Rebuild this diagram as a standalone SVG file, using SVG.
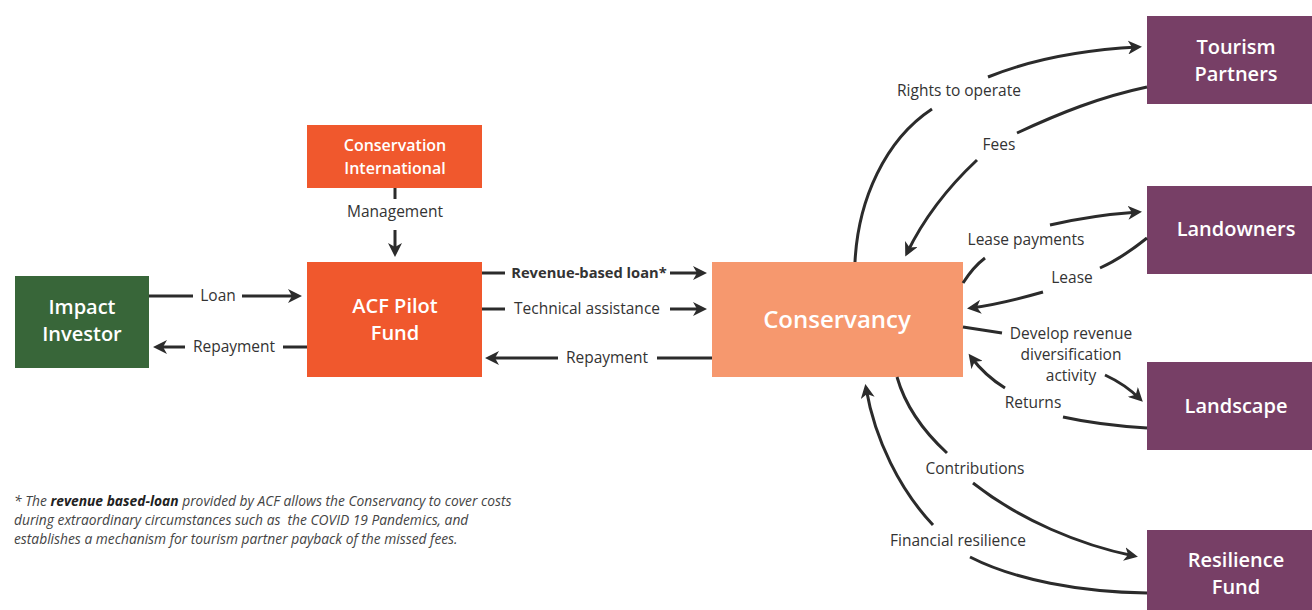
<svg xmlns="http://www.w3.org/2000/svg" width="1312" height="610" viewBox="0 0 1312 610">
<style>
.node-t{font-family:"Open Sans","Liberation Sans",sans-serif;font-weight:600;fill:#fff;text-anchor:middle}
.lbl{font-family:"Open Sans","Liberation Sans",sans-serif;font-size:15.5px;fill:#333;text-anchor:middle}
.c{fill:none;stroke:#2b2b2b;stroke-width:3}
.a{marker-end:url(#arr)}
.foot{font-family:"Open Sans","Liberation Sans",sans-serif;font-size:13.8px;font-style:italic;fill:#444}
</style>
<defs>
<marker id="arr" markerUnits="userSpaceOnUse" markerWidth="16" markerHeight="14" refX="10" refY="7" orient="auto" viewBox="0 0 16 14">
<path d="M0,0 L14,7 L0,14 L4,7 Z" fill="#2b2b2b"/>
</marker>
</defs>
<rect width="1312" height="610" fill="#fff"/>

<g id="impact-investor">
<rect x="15" y="276" width="134" height="92" fill="#386639"/>
<text class="node-t" font-size="20" x="82" y="314">Impact</text>
<text class="node-t" font-size="20" x="82" y="341">Investor</text>
</g>
<g id="conservation-international">
<rect x="307" y="125" width="175" height="63" fill="#F0582D"/>
<text class="node-t" font-size="16" x="395" y="151">Conservation</text>
<text class="node-t" font-size="16" x="395" y="174">International</text>
</g>
<g id="acf-pilot-fund">
<rect x="307" y="262" width="175" height="115" fill="#F0582D"/>
<text class="node-t" font-size="20" x="395" y="313">ACF Pilot</text>
<text class="node-t" font-size="20" x="395" y="340">Fund</text>
</g>
<g id="conservancy">
<rect x="712" y="262" width="251" height="115" fill="#F6986E"/>
<text class="node-t" font-size="24" x="837" y="328">Conservancy</text>
</g>
<g id="tourism-partners">
<rect x="1147" y="16" width="165" height="88" fill="#773F66"/>
<text class="node-t" font-size="20" x="1236" y="54">Tourism</text>
<text class="node-t" font-size="20" x="1236" y="81">Partners</text>
</g>
<g id="landowners">
<rect x="1147" y="186" width="165" height="88" fill="#773F66"/>
<text class="node-t" font-size="20" x="1236" y="236">Landowners</text>
</g>
<g id="landscape">
<rect x="1147" y="362" width="165" height="88" fill="#773F66"/>
<text class="node-t" font-size="20" x="1236" y="413">Landscape</text>
</g>
<g id="resilience-fund">
<rect x="1147" y="530" width="165" height="80" fill="#773F66"/>
<text class="node-t" font-size="20" x="1236" y="567">Resilience</text>
<text class="node-t" font-size="20" x="1236" y="594">Fund</text>
</g>

<g id="connectors">
<path class="c" d="M395,188 L395,199"/>
<path class="c a" d="M395,230 L395,253"/>
<path class="c" d="M149,296 L193,296"/>
<path class="c a" d="M242,296 L298,296"/>
<path class="c" d="M307,347 L283,347"/>
<path class="c a" d="M185,347 L157,347"/>
<path class="c" d="M482,273 L505,273"/>
<path class="c a" d="M670,273 L703,273"/>
<path class="c" d="M482,309 L505,309"/>
<path class="c a" d="M670,309 L703,309"/>
<path class="c" d="M712,358 L657,358"/>
<path class="c a" d="M558,358 L489,358"/>

<path class="c" d="M855,262 C858,200 885,140 932,109"/>
<path class="c a" d="M988,77 C1030,60 1080,50 1138,47"/>
<path class="c" d="M1147,87 C1100,97 1060,113 1017,133"/>
<path class="c a" d="M977,160 C945,190 922,222 907,253"/>
<path class="c" d="M963,283 C970,272 977,264 985,258"/>
<path class="c a" d="M1050,225 C1080,218 1110,214 1138,212"/>
<path class="c" d="M1147,238 C1132,250 1118,260 1100,268"/>
<path class="c a" d="M1043,292 C1015,300 995,305 971,308"/>
<path class="c" d="M963,327 L1002,333"/>
<path class="c a" d="M1105,375 C1118,381 1130,389 1140,399"/>
<path class="c" d="M1147,428 C1115,426 1090,423 1063,417"/>
<path class="c a" d="M1005,388 C992,380 980,369 971,357"/>
<path class="c" d="M897,377 C905,405 922,430 947,453"/>
<path class="c a" d="M973,483 C1020,520 1080,545 1134,556"/>
<path class="c" d="M1147,593 C1080,592 1015,580 970,557"/>
<path class="c a" d="M933,525 C900,490 875,440 866,388"/>

<text class="lbl" x="395" y="217">Management</text>
<text class="lbl" x="218" y="301">Loan</text>
<text class="lbl" x="234" y="352">Repayment</text>
<text class="lbl" x="589" y="278" font-weight="bold" fill="#222" style="font-size:14.7px">Revenue-based loan*</text>
<text class="lbl" x="587" y="314">Technical assistance</text>
<text class="lbl" x="607" y="363">Repayment</text>
<text class="lbl" x="959" y="96">Rights to operate</text>
<text class="lbl" x="999" y="150">Fees</text>
<text class="lbl" x="1026" y="245">Lease payments</text>
<text class="lbl" x="1072" y="283">Lease</text>
<text class="lbl" x="1071" y="339">Develop revenue</text>
<text class="lbl" x="1071" y="360">diversification</text>
<text class="lbl" x="1071" y="381">activity</text>
<text class="lbl" x="1033" y="408">Returns</text>
<text class="lbl" x="975" y="474">Contributions</text>
<text class="lbl" x="958" y="546">Financial resilience</text>
</g>

<text class="foot" x="14" y="506">* The <tspan font-weight="bold" fill="#222">revenue based-loan</tspan> provided by ACF allows the Conservancy to cover costs</text>
<text class="foot" x="14" y="525" xml:space="preserve">during extraordinary circumstances such as  the COVID 19 Pandemics, and</text>
<text class="foot" x="14" y="544">establishes a mechanism for tourism partner payback of the missed fees.</text>
</svg>
